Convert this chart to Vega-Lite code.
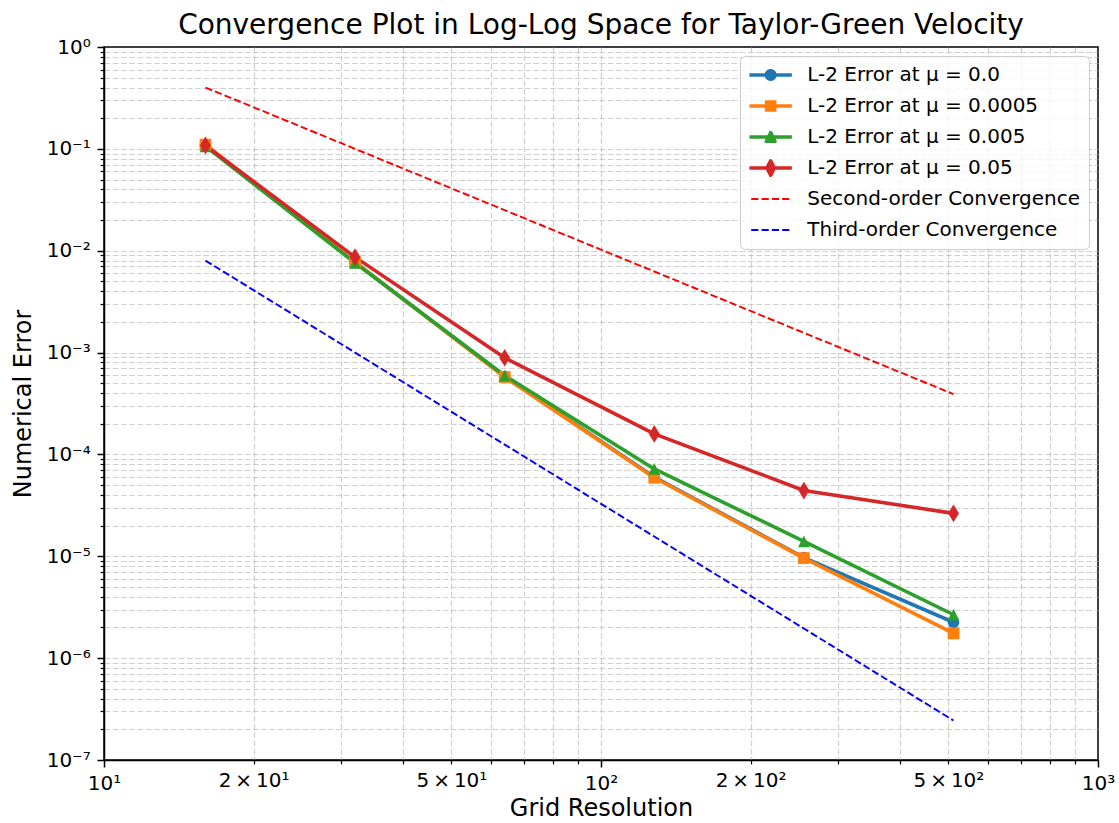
{
  "$schema": "https://vega.github.io/schema/vega-lite/v6.json",
  "width": 994,
  "height": 713,
  "autosize": {"type": "none"},
  "padding": {"left": 104, "top": 47, "right": 21, "bottom": 63},
  "background": "white",
  "config": {
    "font": "DejaVu Sans",
    "view": {"stroke": "black", "strokeWidth": 1.5},
    "axis": {
      "domainColor": "black",
      "domainWidth": 1.5,
      "tickColor": "black",
      "labelColor": "black",
      "labelFont": "DejaVu Sans",
      "labelFontSize": 20,
      "labelOverlap": false,
      "labelFlush": false,
      "labelBound": false,
      "tickSize": 7,
      "labelPadding": 6.8,
      "titleColor": "black",
      "titleFont": "DejaVu Sans",
      "titleFontSize": 24,
      "titleFontWeight": "normal",
      "grid": true,
      "gridColor": "#b0b0b0",
      "gridDash": [5.75, 2.5],
      "gridWidth": 1.2
    }
  },
  "title": {
    "text": "Convergence Plot in Log-Log Space for Taylor-Green Velocity",
    "font": "DejaVu Sans",
    "fontSize": 28,
    "fontWeight": "normal",
    "color": "black",
    "anchor": "middle",
    "offset": -3
  },
  "data": {
    "values": [
      {"n": 16, "err": 0.108, "series": "L-2 Error at μ = 0.0"},
      {"n": 32, "err": 0.0077, "series": "L-2 Error at μ = 0.0"},
      {"n": 64, "err": 0.00058, "series": "L-2 Error at μ = 0.0"},
      {"n": 128, "err": 0.00006, "series": "L-2 Error at μ = 0.0"},
      {"n": 256, "err": 0.0000097, "series": "L-2 Error at μ = 0.0"},
      {"n": 512, "err": 0.00000225, "series": "L-2 Error at μ = 0.0"},
      {"n": 16, "err": 0.11, "series": "L-2 Error at μ = 0.0005"},
      {"n": 32, "err": 0.0077, "series": "L-2 Error at μ = 0.0005"},
      {"n": 64, "err": 0.000575, "series": "L-2 Error at μ = 0.0005"},
      {"n": 128, "err": 0.000059, "series": "L-2 Error at μ = 0.0005"},
      {"n": 256, "err": 0.0000096, "series": "L-2 Error at μ = 0.0005"},
      {"n": 512, "err": 0.00000175, "series": "L-2 Error at μ = 0.0005"},
      {"n": 16, "err": 0.106, "series": "L-2 Error at μ = 0.005"},
      {"n": 32, "err": 0.0076, "series": "L-2 Error at μ = 0.005"},
      {"n": 64, "err": 0.000595, "series": "L-2 Error at μ = 0.005"},
      {"n": 128, "err": 0.000072, "series": "L-2 Error at μ = 0.005"},
      {"n": 256, "err": 0.000014, "series": "L-2 Error at μ = 0.005"},
      {"n": 512, "err": 0.00000267, "series": "L-2 Error at μ = 0.005"},
      {"n": 16, "err": 0.108, "series": "L-2 Error at μ = 0.05"},
      {"n": 32, "err": 0.00865, "series": "L-2 Error at μ = 0.05"},
      {"n": 64, "err": 0.00089, "series": "L-2 Error at μ = 0.05"},
      {"n": 128, "err": 0.000159, "series": "L-2 Error at μ = 0.05"},
      {"n": 256, "err": 0.0000442, "series": "L-2 Error at μ = 0.05"},
      {"n": 512, "err": 0.0000264, "series": "L-2 Error at μ = 0.05"},
      {"n": 16, "err": 0.4, "series": "Second-order Convergence"},
      {"n": 32, "err": 0.1, "series": "Second-order Convergence"},
      {"n": 64, "err": 0.025, "series": "Second-order Convergence"},
      {"n": 128, "err": 0.00625, "series": "Second-order Convergence"},
      {"n": 256, "err": 0.0015625, "series": "Second-order Convergence"},
      {"n": 512, "err": 0.000390625, "series": "Second-order Convergence"},
      {"n": 16, "err": 0.008, "series": "Third-order Convergence"},
      {"n": 32, "err": 0.001, "series": "Third-order Convergence"},
      {"n": 64, "err": 0.000125, "series": "Third-order Convergence"},
      {"n": 128, "err": 0.000015625, "series": "Third-order Convergence"},
      {"n": 256, "err": 0.000001953125, "series": "Third-order Convergence"},
      {"n": 512, "err": 0.000000244140625, "series": "Third-order Convergence"}
    ]
  },
  "encoding": {
    "x": {
      "field": "n",
      "type": "quantitative",
      "title": "Grid Resolution",
      "scale": {"type": "log", "domain": [10, 1000], "nice": false},
      "axis": {
        "values": [10, 20, 30, 40, 50, 60, 70, 80, 90, 100, 200, 300, 400, 500, 600, 700, 800, 900, 1000],
        "labelExpr": "datum.value == 10 ? '10¹' : datum.value == 20 ? '2\u2009×\u200910¹' : datum.value == 50 ? '5\u2009×\u200910¹' : datum.value == 100 ? '10²' : datum.value == 200 ? '2\u2009×\u200910²' : datum.value == 500 ? '5\u2009×\u200910²' : datum.value == 1000 ? '10³' : ''",
        "tickSize": {"condition": {"test": "datum.value == 10 || datum.value == 100 || datum.value == 1000", "value": 7}, "value": 3.9},
        "tickWidth": {"condition": {"test": "datum.value == 10 || datum.value == 100 || datum.value == 1000", "value": 1.5}, "value": 1.2},
        "gridOpacity": {"condition": {"test": "datum.value > 999 || datum.value < 11", "value": 0}, "value": 0.6},
        "titlePadding": 3
      }
    },
    "y": {
      "field": "err",
      "type": "quantitative",
      "title": "Numerical Error",
      "scale": {"type": "log", "domain": [1e-7, 1], "nice": false},
      "axis": {
        "values": [1e-7, 2e-7, 3e-7, 4e-7, 5e-7, 6e-7, 7e-7, 8e-7, 9e-7, 1e-6, 2e-6, 3e-6, 4e-6, 5e-6, 6e-6, 7e-6, 8e-6, 9e-6, 1e-5, 2e-5, 3e-5, 4e-5, 5e-5, 6e-5, 7e-5, 8e-5, 9e-5, 1e-4, 2e-4, 3e-4, 4e-4, 5e-4, 6e-4, 7e-4, 8e-4, 9e-4, 0.001, 0.002, 0.003, 0.004, 0.005, 0.006, 0.007, 0.008, 0.009, 0.01, 0.02, 0.03, 0.04, 0.05, 0.06, 0.07, 0.08, 0.09, 0.1, 0.2, 0.3, 0.4, 0.5, 0.6, 0.7, 0.8, 0.9, 1],
        "labelExpr": "abs(log(datum.value) / LN10 - round(log(datum.value) / LN10)) < 0.001 ? '10' + (round(log(datum.value) / LN10) < 0 ? '⁻' : '') + ['⁰', '¹', '²', '³', '⁴', '⁵', '⁶', '⁷'][abs(round(log(datum.value) / LN10))] : ''",
        "tickSize": {"condition": {"test": "abs(log(datum.value) / LN10 - round(log(datum.value) / LN10)) < 0.001", "value": 7}, "value": 3.9},
        "tickWidth": {"condition": {"test": "abs(log(datum.value) / LN10 - round(log(datum.value) / LN10)) < 0.001", "value": 1.5}, "value": 1.2},
        "gridOpacity": {"condition": {"test": "datum.value > 0.99 || datum.value < 1.01e-7", "value": 0}, "value": 0.6},
        "titlePadding": 11
      }
    },
    "color": {
      "field": "series",
      "type": "nominal",
      "scale": {
        "domain": ["L-2 Error at μ = 0.0", "L-2 Error at μ = 0.0005", "L-2 Error at μ = 0.005", "L-2 Error at μ = 0.05", "Second-order Convergence", "Third-order Convergence"],
        "range": ["#1f77b4", "#ff7f0e", "#2ca02c", "#d62728", "#ff0000", "#0000ff"]
      },
      "legend": {
        "title": null,
        "orient": "top-right",
        "offset": 9,
        "padding": 9,
        "rowPadding": 11,
        "fillColor": "rgba(255,255,255,0.8)",
        "strokeColor": "#cccccc",
        "cornerRadius": 5,
        "labelFont": "DejaVu Sans",
        "labelFontSize": 20,
        "labelColor": "black",
        "labelLimit": 500,
        "symbolOffset": 11.65,
        "labelOffset": 26.6,
        "encode": {
          "symbols": {
            "update": {
              "shape": {"signal": "['M-3.316,0L3.316,0M0.69,0A0.69,0.69,0,1,1,-0.69,0A0.69,0.69,0,1,1,0.69,0Z', 'M-3.316,0L3.316,0M-0.69,-0.69L0.69,-0.69L0.69,0.69L-0.69,0.69Z', 'M-3.316,0L3.316,0M0,-0.72L0.72,0.72L-0.72,0.72Z', 'M-3.316,0L3.316,0M0,-1.2L0.63,0L0,1.2L-0.63,0Z', 'M-3.316,0L3.316,0', 'M-3.316,0L3.316,0'][indexof(domain('color'), datum.value)]"},
              "size": {"value": 137},
              "fill": {"signal": "indexof(domain('color'), datum.value) < 4 ? scale('color', datum.value) : 'transparent'"},
              "stroke": {"signal": "scale('color', datum.value)"},
              "strokeWidth": {"signal": "indexof(domain('color'), datum.value) < 4 ? 3.6 : 1.94"},
              "strokeDash": {"signal": "indexof(domain('color'), datum.value) < 4 ? [1, 0] : [7.2, 3.1]"},
              "strokeCap": {"signal": "indexof(domain('color'), datum.value) < 4 ? 'square' : 'butt'"},
              "strokeJoin": {"value": "round"},
              "opacity": {"value": 1},
              "fillOpacity": {"value": 1},
              "strokeOpacity": {"value": 1}
            }
          }
        }
      }
    }
  },
  "layer": [
    {
      "transform": [{"filter": {"field": "series", "oneOf": ["L-2 Error at μ = 0.0", "L-2 Error at μ = 0.0005", "L-2 Error at μ = 0.005", "L-2 Error at μ = 0.05"]}}],
      "mark": {"type": "line", "strokeWidth": 3.6, "strokeJoin": "round", "strokeCap": "square"}
    },
    {
      "transform": [{"filter": {"field": "series", "oneOf": ["Second-order Convergence", "Third-order Convergence"]}}],
      "mark": {"type": "line", "strokeWidth": 1.94, "strokeDash": [7.2, 3.1]}
    },
    {
      "transform": [{"filter": {"field": "series", "oneOf": ["L-2 Error at μ = 0.0", "L-2 Error at μ = 0.0005", "L-2 Error at μ = 0.005", "L-2 Error at μ = 0.05"]}}],
      "mark": {"type": "point", "filled": true, "opacity": 1, "size": 137},
      "encoding": {
        "shape": {
          "field": "series",
          "type": "nominal",
          "scale": {
            "domain": ["L-2 Error at μ = 0.0", "L-2 Error at μ = 0.0005", "L-2 Error at μ = 0.005", "L-2 Error at μ = 0.05"],
            "range": ["circle", "square", "M0,-1L1,1L-1,1Z", "M0,-1.51L0.94,0L0,1.51L-0.94,0Z"]
          },
          "legend": null
        }
      }
    }
  ]
}
